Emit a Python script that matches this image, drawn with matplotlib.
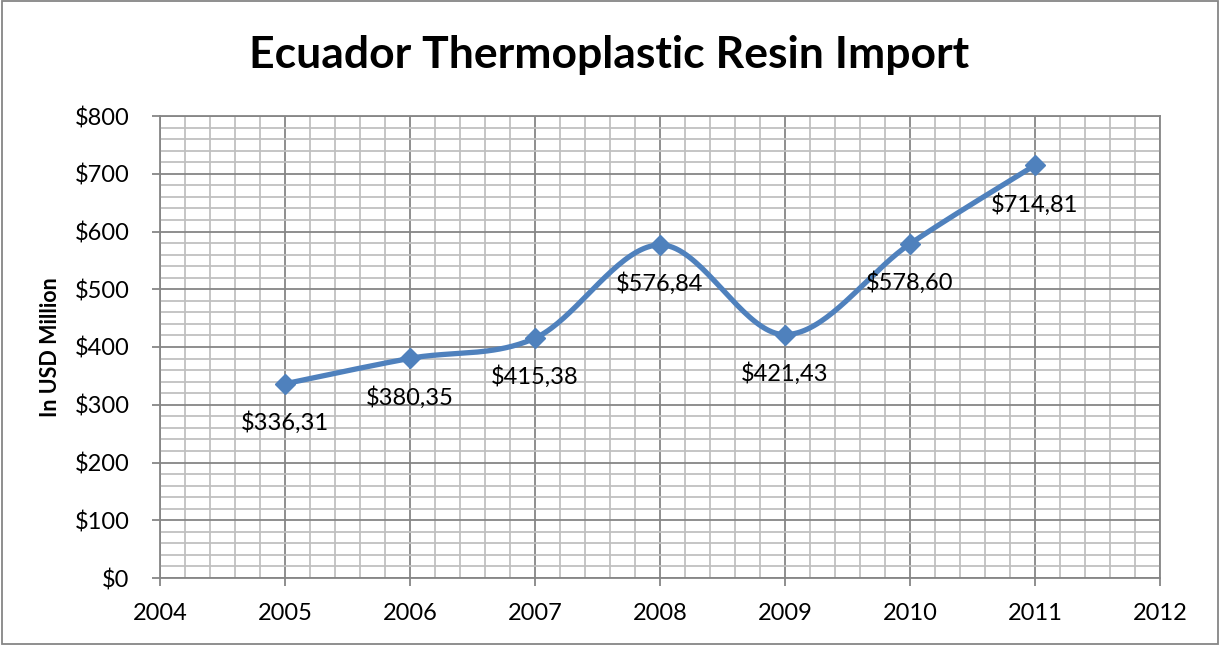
import matplotlib
matplotlib.use("Agg")
import matplotlib.pyplot as plt
import numpy as np
from matplotlib.ticker import MultipleLocator, FuncFormatter
from matplotlib.patches import Rectangle

# Data
years = [2005, 2006, 2007, 2008, 2009, 2010, 2011]
imports = [336.31, 380.35, 415.38, 576.84, 421.43, 578.60, 714.81]

lineColor = '#4F81BD'
plt.rcParams['font.family'] = ['Lato', 'DejaVu Sans']


def SmoothCurve(xs, ys, steps=40):
    # Excel style smoothed line (Catmull-Rom through bezier control points)
    xs = np.asarray(xs, float)
    ys = np.asarray(ys, float)
    n = len(xs)
    outX, outY = [], []
    for i in range(n - 1):
        p0 = np.array([xs[max(i - 1, 0)], ys[max(i - 1, 0)]])
        p1 = np.array([xs[i], ys[i]])
        p2 = np.array([xs[i + 1], ys[i + 1]])
        p3 = np.array([xs[min(i + 2, n - 1)], ys[min(i + 2, n - 1)]])
        c1 = p1 + (p2 - p0) / 6.0
        c2 = p2 - (p3 - p1) / 6.0
        t = np.linspace(0, 1, steps)[:, None]
        pts = ((1 - t) ** 3) * p1 + 3 * ((1 - t) ** 2) * t * c1 + 3 * (1 - t) * t ** 2 * c2 + t ** 3 * p2
        outX.extend(pts[:, 0])
        outY.extend(pts[:, 1])
    return outX, outY


fig = plt.figure(figsize=(12.23, 6.45), dpi=100)
ax = fig.add_axes([160 / 1223, 1 - 578 / 645, 1000 / 1223, 462 / 645])

curveX, curveY = SmoothCurve(years, imports)
ax.plot(curveX, curveY, color=lineColor, linewidth=3.8, solid_capstyle='round', zorder=3)
ax.plot(years, imports, linestyle='none', marker='D', markersize=10, color=lineColor, zorder=4)

for x, y in zip(years, imports):
    label = '${:.2f}'.format(y).replace('.', ',')
    ax.annotate(label, (x, y), xytext=(0, -28), textcoords='offset points',
                ha='center', va='center', fontsize=17, zorder=5)

ax.set_xlim(2004, 2012)
ax.set_ylim(0, 800)
ax.xaxis.set_major_locator(MultipleLocator(1))
ax.xaxis.set_minor_locator(MultipleLocator(0.2))
ax.yaxis.set_major_locator(MultipleLocator(100))
ax.yaxis.set_minor_locator(MultipleLocator(20))
ax.yaxis.set_major_formatter(FuncFormatter(lambda v, p: '${:d}'.format(int(v))))
ax.xaxis.set_major_formatter(FuncFormatter(lambda v, p: '{:d}'.format(int(round(v)))))

ax.grid(True, which='minor', color='#C0C0C0', linewidth=1.3)
ax.grid(True, which='major', color='#868686', linewidth=1.3)
ax.set_axisbelow(True)
for side in ax.spines.values():
    side.set_color('#868686')
    side.set_linewidth(1.3)

ax.tick_params(which='major', length=6, width=1.3, color='#868686', labelsize=17)
ax.tick_params(axis='x', which='major', pad=12)
ax.tick_params(axis='y', which='major', pad=16)
ax.tick_params(which='minor', length=0)

ax.set_ylabel('In USD Million', fontsize=15.5, fontweight='bold', labelpad=10)
fig.text(609 / 1223, 1 - 55 / 645, 'Ecuador Thermoplastic Resin Import',
         ha='center', va='center', fontsize=32, fontweight='bold')

# Outer border of the chart
fig.patches.append(Rectangle((0.002, 0.002), 0.994, 0.996, transform=fig.transFigure,
                             fill=False, edgecolor='#868686', linewidth=1.3))

fig.savefig('out.png', dpi=100)
